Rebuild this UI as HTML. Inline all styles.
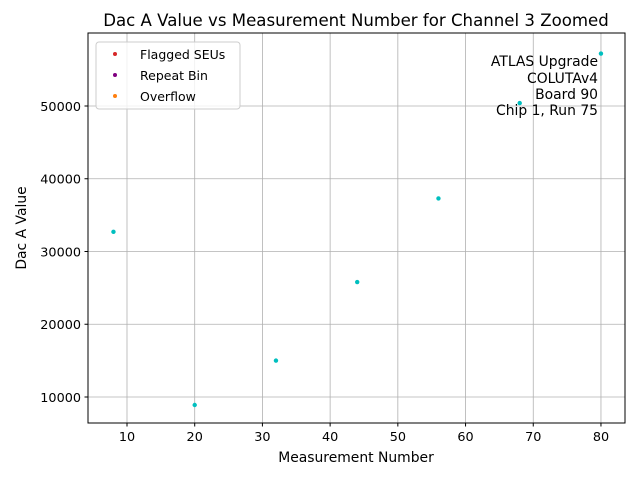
<!DOCTYPE html>
<html><head><meta charset="utf-8"><style>
body{margin:0;background:#fff;}
svg{display:block;font-family:"DejaVu Sans","Liberation Sans",sans-serif;}
</style></head><body>
<svg id="chart" width="640" height="480">
<rect width="640" height="480" fill="#fff"/>
<g id="grid"></g>
<g id="marks"></g>
<rect x="88" y="33" width="537" height="390" fill="none" stroke="#000" stroke-width="1"/>
<g id="ticks" font-size="12.8"></g>
<text x="356" y="26" text-anchor="middle" font-size="16.6">Dac A Value vs Measurement Number for Channel 3 Zoomed</text>
<text x="356" y="462" text-anchor="middle" font-size="13.9">Measurement Number</text>
<text transform="translate(26,228) rotate(-90)" text-anchor="middle" font-size="13.9">Dac A Value</text>
<g font-size="13.9" text-anchor="end">
<text x="598" y="66">ATLAS Upgrade</text>
<text x="598" y="83">COLUTAv4</text>
<text x="598" y="99">Board 90</text>
<text x="598" y="115">Chip 1, Run 75</text>
</g>
<g>
<rect x="96" y="42" width="144" height="67" rx="3" fill="#fff" fill-opacity="0.8" stroke="#ccc"/>
<circle cx="115" cy="54" r="2" fill="#d62728"/>
<text x="140" y="59" font-size="12.5">Flagged SEUs</text>
<circle cx="115" cy="75" r="2" fill="#800080"/>
<text x="140" y="80" font-size="12.5">Repeat Bin</text>
<circle cx="115" cy="96" r="2" fill="#ff7f0e"/>
<text x="140" y="101" font-size="12.5">Overflow</text>
</g>
</svg>
<script>
const measurementNumbers=[8,20,32,44,56,68,80];
const dacValues=[32700,8900,15000,25800,37300,50400,57200];
const xTicks=[10,20,30,40,50,60,70,80];
const yTicks=[10000,20000,30000,40000,50000];
const L=88,R=625,T=33,B=423;
const xMin=4.24,xMax=83.55,yMin=6426,yMax=60034;
function sx(v){return L+(v-xMin)/(xMax-xMin)*(R-L);}
function sy(v){return B-(v-yMin)/(yMax-yMin)*(B-T);}
const NS="http://www.w3.org/2000/svg";
const grid=document.getElementById('grid'),ticks=document.getElementById('ticks'),marks=document.getElementById('marks');
function mk(tag,attrs,parent,text){const e=document.createElementNS(NS,tag);for(const k in attrs)e.setAttribute(k,attrs[k]);if(text!==undefined)e.textContent=text;parent.appendChild(e);return e;}
xTicks.forEach(t=>{const x=sx(t);
const g=mk('line',{x1:x,x2:x,y1:T,y2:B,stroke:'#b0b0b0','stroke-width':0.8},grid);


mk('line',{x1:x,x2:x,y1:B,y2:B+3.5,stroke:'#000'},ticks);
const l=mk('text',{x:x,y:B+18,'text-anchor':'middle'},ticks,t);

});
yTicks.forEach(t=>{const y=sy(t);
const g=mk('line',{x1:L,x2:R,y1:y,y2:y,stroke:'#b0b0b0','stroke-width':0.8},grid);


mk('line',{x1:L-3.5,x2:L,y1:y,y2:y,stroke:'#000'},ticks);
const l=mk('text',{x:L-7,y:y+5,'text-anchor':'end'},ticks,t);

});
measurementNumbers.forEach((m,i)=>{
const c=mk('circle',{cx:sx(m),cy:sy(dacValues[i]),r:2.2,fill:'#00bfbf'},marks);

});
</script>
</body></html>
